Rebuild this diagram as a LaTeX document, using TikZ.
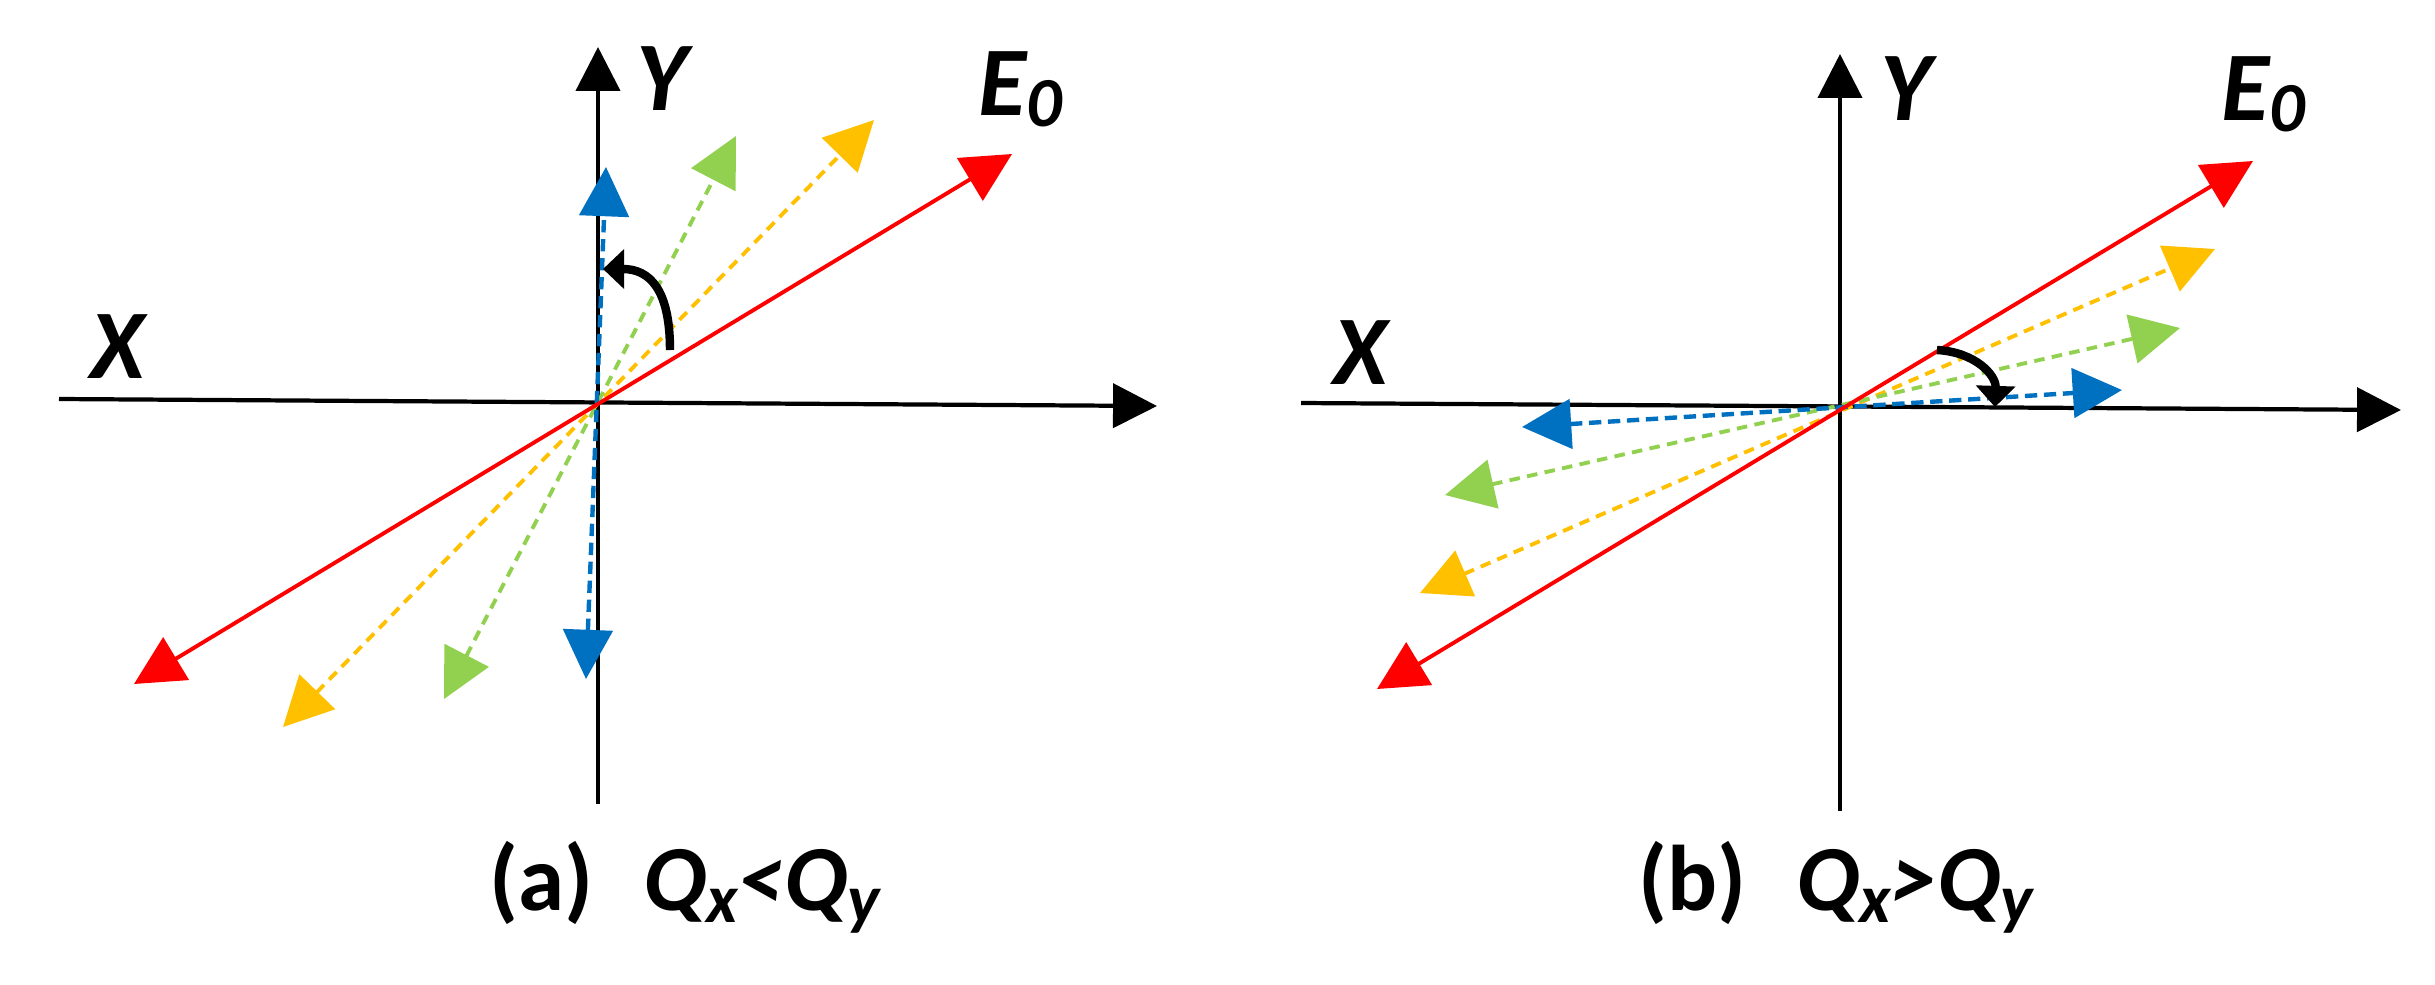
\documentclass[tikz,border=0pt]{standalone}
\usepackage{fontspec}
\setmainfont{Carlito}
\usetikzlibrary{arrows.meta}
\definecolor{cred}{HTML}{FF0000}
\definecolor{cyel}{HTML}{FFC000}
\definecolor{cgrn}{HTML}{92D050}
\definecolor{cblu}{HTML}{0070C0}
\newcommand{\sbx}[1]{\raisebox{-3.6pt}{\fontsize{19.5}{19.5}\selectfont #1}}
\newcommand{\sbz}[1]{\raisebox{-3.4pt}{\fontsize{20}{20}\selectfont #1}}
\begin{document}
\begin{tikzpicture}[x=0.01cm,y=-0.01cm,
  axisline/.style={line width=1.2pt,-{Triangle[length=12.5pt,width=12.5pt]}},
  vec/.style={line width=1.1pt,{Triangle[length=14pt,width=14pt]}-{Triangle[length=14pt,width=14pt]}},
  dsh/.style={vec,dash pattern=on 3pt off 2.1pt},
  rot/.style={line width=2.4pt,-{Triangle[length=6pt,width=11pt]}},
  lbl/.style={inner sep=0,anchor=base west,font=\fontsize{28}{30}\selectfont\bfseries\itshape},
  captext/.style={inner sep=0,anchor=base west,font=\fontsize{26.5}{28}\selectfont\bfseries}]
\useasboundingbox[fill=white] (0,0) rectangle (2435,984);

% ---------- panel (a) ----------
\coordinate (axL) at (59,399);
\coordinate (axR) at (1157,406);
\coordinate (ayB) at (598,804);
\coordinate (ayT) at (598,47);
\draw[axisline] (axL) -- (axR);
\draw[axisline] (ayB) -- (ayT);

\coordinate (aR1) at (134,684);  \coordinate (aR2) at (1012,154);
\coordinate (aY1) at (283,727);  \coordinate (aY2) at (874,120);
\coordinate (aG1) at (444,699);  \coordinate (aG2) at (736,136);
\coordinate (aB1) at (586,679);  \coordinate (aB2) at (606,167);
\draw[dsh,cyel] (aY1) -- (aY2);
\draw[dsh,cgrn] (aG1) -- (aG2);
\draw[dsh,cblu,line width=1.25pt,dash pattern=on 3.5pt off 1.9pt] (aB1) -- (aB2);
\draw[vec,cred] (aR1) -- (aR2);

\coordinate (ra1) at (670,350);
\coordinate (ra2) at (603,269);
\draw[rot] (ra1) .. controls (670,290) and (650,269) .. (ra2);

\node[lbl] (Xa) at (90,378) {X};
\node[lbl] (Ya) at (636,110) {Y};
\node[lbl] (Ea) at (978,115) {E\sbz{0}};
\node[captext] (ca) at (489,910) {(a)\hspace{14pt}{\itshape Q\sbx{x}<Q\sbx{y}}};

% ---------- panel (b) ----------
\coordinate (bxL) at (1301,403);
\coordinate (bxR) at (2401,410);
\coordinate (byB) at (1840,811);
\coordinate (byT) at (1840,54);
\draw[axisline] (bxL) -- (bxR);
\draw[axisline] (byB) -- (byT);

\coordinate (bR1) at (1377,689);  \coordinate (bR2) at (2253,161);
\coordinate (bY1) at (1420,593);  \coordinate (bY2) at (2215,249);
\coordinate (bG1) at (1445,495);  \coordinate (bG2) at (2180,328);
\coordinate (bB1) at (1522,427);  \coordinate (bB2) at (2122,390);
\draw[dsh,cyel] (bY1) -- (bY2);
\draw[dsh,cgrn] (bG1) -- (bG2);
\draw[dsh,cblu,line width=1.25pt,dash pattern=on 3.5pt off 1.9pt] (bB1) -- (bB2);
\draw[vec,cred] (bR1) -- (bR2);

\coordinate (rb1) at (1937,350);
\coordinate (rb2) at (1995,407);
\draw[rot] (rb1) .. controls (1975,352) and (1996,375) .. (rb2);

\node[lbl] (Xb) at (1333,384) {X};
\node[lbl] (Yb) at (1880,120) {Y};
\node[lbl] (Eb) at (2221,120) {E\sbz{0}};
\node[captext] (cb) at (1638,910) {(b)\hspace{14pt}{\itshape Q\sbx{x}>Q\sbx{y}}};
\end{tikzpicture}
\end{document}
